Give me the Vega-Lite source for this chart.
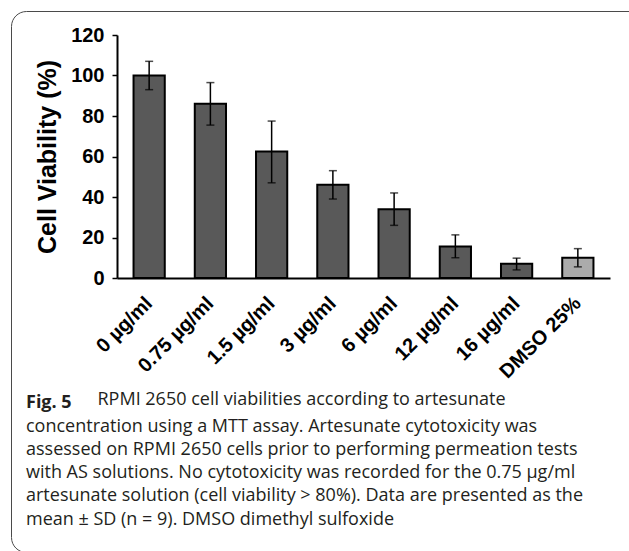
{
  "$schema": "https://vega.github.io/schema/vega-lite/v6.json",
  "autosize": "none",
  "width": 493,
  "height": 243,
  "padding": {"left": 117, "top": 35, "right": 19, "bottom": 273},
  "background": "white",
  "title": {
    "text": "Fig. 5",
    "subtitle": [
      "concentration using a MTT assay. Artesunate cytotoxicity was",
      "assessed on RPMI 2650 cells prior to performing permeation tests",
      "with AS solutions. No cytotoxicity was recorded for the 0.75 µg/ml",
      "artesunate solution (cell viability > 80%). Data are presented as the",
      "mean ± SD (n = 9).  DMSO dimethyl sulfoxide"
    ],
    "orient": "bottom",
    "anchor": "start",
    "frame": "group",
    "dx": -91,
    "offset": -145,
    "font": "Open Sans",
    "fontSize": 18,
    "fontWeight": "bold",
    "color": "#231f20",
    "baseline": "alphabetic",
    "subtitleFont": "Open Sans",
    "subtitleFontSize": 18,
    "subtitleFontWeight": "normal",
    "subtitleColor": "#231f20",
    "subtitleLineHeight": 23.3,
    "subtitlePadding": 6
  },
  "data": {
    "values": [
      {"conc": "0 µg/ml", "viability": 100, "lo": 93, "hi": 107, "group": "artesunate"},
      {"conc": "0.75 µg/ml", "viability": 86, "lo": 75.5, "hi": 96.5, "group": "artesunate"},
      {"conc": "1.5 µg/ml", "viability": 62.5, "lo": 47, "hi": 77.5, "group": "artesunate"},
      {"conc": "3 µg/ml", "viability": 46, "lo": 39, "hi": 53, "group": "artesunate"},
      {"conc": "6 µg/ml", "viability": 34, "lo": 26, "hi": 42, "group": "artesunate"},
      {"conc": "12 µg/ml", "viability": 15.5, "lo": 10, "hi": 21.3, "group": "artesunate"},
      {"conc": "16 µg/ml", "viability": 7, "lo": 4, "hi": 9.8, "group": "artesunate"},
      {"conc": "DMSO 25%", "viability": 10, "lo": 5.5, "hi": 14.5, "group": "DMSO"}
    ]
  },
  "encoding": {
    "x": {
      "field": "conc",
      "type": "nominal",
      "sort": null,
      "scale": {"paddingInner": 0.49, "paddingOuter": 0.27},
      "axis": {
        "title": "RPMI 2650 cell viabilities according to artesunate",
        "titleFont": "Open Sans",
        "titleFontSize": 18,
        "titleFontWeight": "normal",
        "titleColor": "#231f20",
        "titleX": -20,
        "titleY": 126,
        "titleAlign": "left",
        "titleBaseline": "alphabetic",
        "titleAngle": 0,
        "labelAngle": -45,
        "labelAlign": "right",
        "labelBaseline": "middle",
        "labelFont": "Liberation Sans",
        "labelFontWeight": "bold",
        "labelFontSize": 20,
        "labelColor": "black",
        "labelPadding": 22,
        "labelLimit": 300,
        "ticks": false,
        "domainColor": "black",
        "domainWidth": 2
      }
    }
  },
  "layer": [
    {
      "mark": {"type": "bar", "stroke": "black", "strokeWidth": 2},
      "encoding": {
        "y": {
          "field": "viability",
          "type": "quantitative",
          "scale": {"domain": [0, 120], "nice": false},
          "axis": {
            "title": "Cell Viability (%)",
            "titleFont": "Liberation Sans",
            "titleFontSize": 25,
            "titleFontWeight": "bold",
            "titleColor": "black",
            "titlePadding": 10,
            "values": [0, 20, 40, 60, 80, 100, 120],
            "labelFont": "Liberation Sans",
            "labelFontWeight": "bold",
            "labelFontSize": 20,
            "labelColor": "black",
            "labelPadding": 8,
            "tickSize": 5,
            "tickColor": "black",
            "tickWidth": 1.5,
            "domainColor": "black",
            "domainWidth": 2,
            "grid": false
          }
        },
        "fill": {
          "field": "group",
          "type": "nominal",
          "scale": {"domain": ["artesunate", "DMSO"], "range": ["#595959", "#ababab"]},
          "legend": {
            "title": null,
            "orient": "none",
            "legendX": -106,
            "legendY": -24,
            "direction": "horizontal",
            "columnPadding": 160,
            "padding": 265,
            "cornerRadius": 15,
            "strokeColor": "#4a4a4a",
            "symbolOpacity": 0,
            "labelOpacity": 0,
            "labelFontSize": 10
          }
        }
      }
    },
    {
      "mark": {"type": "rule", "color": "black", "strokeWidth": 1.5},
      "encoding": {
        "y": {"field": "lo", "type": "quantitative"},
        "y2": {"field": "hi"}
      }
    },
    {
      "mark": {"type": "tick", "color": "black", "thickness": 1.5, "size": 8},
      "encoding": {"y": {"field": "lo", "type": "quantitative"}}
    },
    {
      "mark": {"type": "tick", "color": "black", "thickness": 1.5, "size": 8},
      "encoding": {"y": {"field": "hi", "type": "quantitative"}}
    }
  ],
  "config": {"view": {"stroke": null}}
}
